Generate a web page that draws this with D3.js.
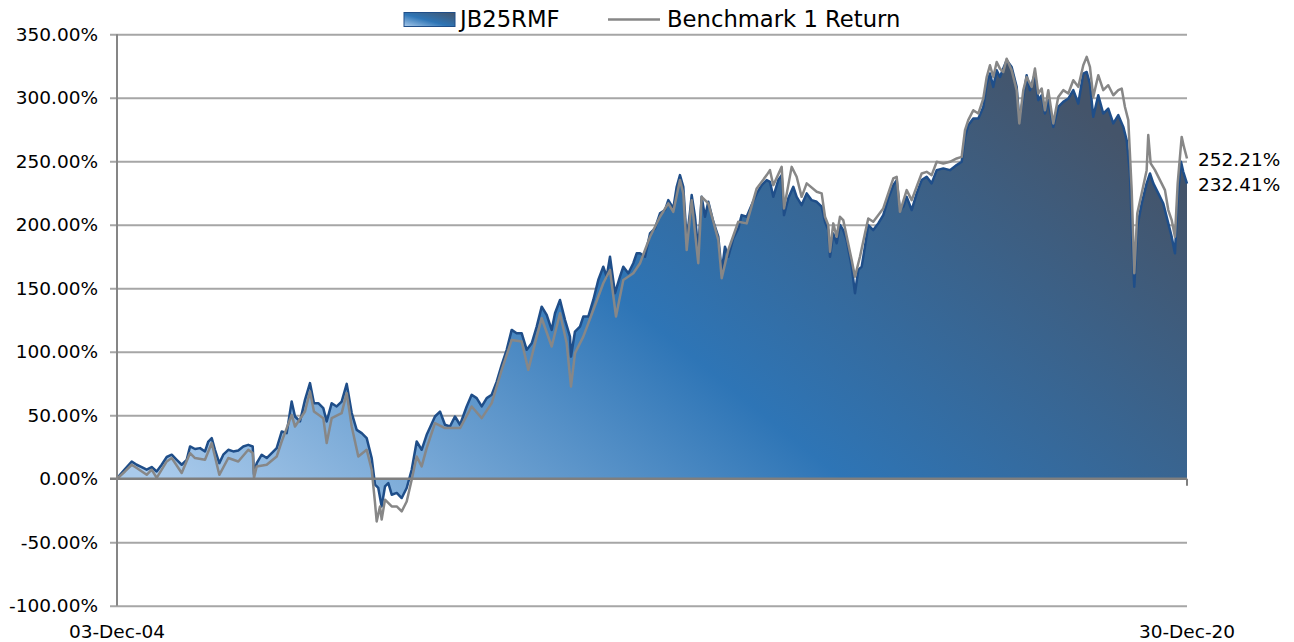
<!DOCTYPE html>
<html><head><meta charset="utf-8">
<script src="https://cdn.jsdelivr.net/npm/d3@7"></script>
<style>html,body{margin:0;padding:0;background:#fff;} svg{display:block;}</style>
</head><body><svg id="chart" width="1294" height="642"></svg>
<script>
const fundName = "JB25RMF";
const benchName = "Benchmark 1 Return";

// dates as decimal years
const fundDates = [2004.923,2004.968,2005.043,2005.144,2005.219,2005.294,2005.369,2005.444,2005.519,2005.594,2005.670,2005.745,2005.820,2005.895,2005.970,
2006.020,2006.095,2006.170,2006.245,2006.295,2006.346,2006.395,2006.460,2006.520,2006.595,2006.670,2006.745,2006.820,2006.895,2006.962,2006.981,
2007.022,2007.097,2007.172,2007.247,2007.322,2007.397,2007.472,2007.547,2007.597,2007.672,2007.747,2007.822,2007.882,2007.947,
2008.022,2008.073,2008.148,2008.223,2008.298,2008.374,2008.449,2008.524,2008.599,2008.674,2008.749,2008.799,2008.848,2008.899,2008.949,2008.999,
2009.050,2009.125,2009.200,2009.275,2009.350,2009.425,2009.500,2009.575,2009.700,2009.775,2009.850,2009.925,
2010.000,2010.076,2010.176,2010.251,2010.326,2010.402,2010.477,2010.552,2010.627,2010.702,2010.777,2010.852,2010.927,
2011.002,2011.078,2011.153,2011.228,2011.303,2011.378,2011.453,2011.503,2011.578,2011.653,2011.728,2011.743,2011.803,2011.878,2011.928,
2012.003,2012.078,2012.153,2012.228,2012.279,2012.329,2012.404,2012.479,2012.529,2012.604,2012.679,2012.730,2012.780,2012.855,2012.930,
2013.005,2013.080,2013.155,2013.205,2013.280,2013.331,2013.380,2013.430,2013.481,2013.531,2013.556,2013.606,2013.655,2013.706,2013.756,2013.806,2013.881,2013.956,
2014.007,2014.056,2014.106,2014.181,2014.256,2014.307,2014.382,2014.457,2014.533,2014.608,2014.683,2014.732,2014.782,2014.857,2014.908,2014.943,
2015.007,2015.083,2015.133,2015.208,2015.284,2015.359,2015.434,2015.509,2015.559,2015.608,2015.634,2015.683,2015.734,2015.784,2015.833,2015.884,2015.960,
2016.009,2016.059,2016.110,2016.159,2016.209,2016.284,2016.359,2016.434,2016.510,2016.585,2016.636,2016.685,2016.735,2016.786,2016.861,2016.936,
2017.011,2017.086,2017.161,2017.237,2017.336,2017.436,2017.537,2017.612,2017.662,2017.711,2017.786,2017.862,2017.937,2017.988,
2018.037,2018.087,2018.138,2018.187,2018.237,2018.288,2018.363,2018.438,2018.478,2018.538,2018.588,2018.638,2018.713,2018.763,2018.814,2018.863,2018.913,2018.988,
2019.063,2019.138,2019.214,2019.289,2019.364,2019.439,2019.490,2019.539,2019.589,2019.664,2019.739,2019.814,2019.890,2019.965,
2020.040,2020.091,2020.140,2020.175,2020.205,2020.250,2020.316,2020.391,2020.441,2020.491,2020.566,2020.641,2020.716,2020.767,2020.816,2020.857,2020.907,2020.941,2020.997];

const fundValues = [0,3.1,7.6,13.6,11.0,9.2,7.1,9.2,5.7,11.0,17.1,18.9,14.9,11.0,14.9,
25.4,23.4,24.1,21.5,29.3,32.0,22.8,12.3,18.9,22.8,21.5,22.3,25.4,26.7,25.4,3.5,
12.3,18.9,16.3,20.2,24.1,37.2,35.9,60.8,49.0,45.1,62.1,75.3,59.5,59.5,
55.6,45.1,59.5,56.9,60.8,74.7,51.7,38.5,35.9,32.0,16.3,-4.7,-7.3,-21.8,-6.1,-3.4,
-12.6,-11.2,-15.2,-7.3,7.1,29.3,22.8,34.6,49.0,52.9,42.5,41.1,
49.0,42.5,56.9,66.1,63.5,56.9,63.5,66.1,76.5,89.7,101.5,117.2,114.6,
114.6,101.5,106.7,119.8,135.5,129.0,117.2,130.3,140.8,125.1,111.9,96.2,115.9,119.8,127.7,
127.7,140.8,156.5,167.0,159.1,174.8,146.1,159.1,167.0,161.8,169.7,177.5,177.5,174.8,193.2,
197.2,209.0,211.6,219.4,212.9,229.9,239.1,229.9,188.0,210.2,223.4,206.3,180.1,222.0,206.3,218.1,202.4,190.6,
163.0,182.7,174.8,189.3,197.2,207.6,206.3,215.5,224.7,231.2,235.2,233.8,222.0,235.2,239.1,207.6,
220.8,229.9,222.0,215.5,224.7,219.4,218.1,214.2,202.4,195.8,174.8,193.2,185.4,199.8,195.8,188.0,167.0,
146.1,164.4,167.0,182.7,199.8,195.8,201.1,207.6,220.8,231.2,235.2,211.6,214.2,222.0,211.6,224.7,
235.2,237.8,232.6,243.0,244.4,243.0,247.0,249.6,269.2,278.4,283.7,283.7,292.8,311.2,
319.1,308.6,321.7,316.4,323.0,329.5,324.3,308.6,282.4,300.7,317.8,306.0,319.1,298.1,302.0,287.6,298.1,277.1,
292.8,296.8,299.4,306.0,295.5,319.1,320.3,311.2,285.0,302.0,287.6,291.5,279.8,286.3,
277.1,266.6,240.4,188.0,151.2,198.4,216.8,232.6,240.4,232.6,224.7,216.8,201.1,190.6,177.5,222.0,249.6,241.7,232.41];

const benchDates = [2004.923,2005.043,2005.144,2005.219,2005.369,2005.444,2005.519,2005.670,2005.745,2005.895,
2006.020,2006.095,2006.245,2006.346,2006.460,2006.595,2006.745,2006.895,2006.962,2006.981,
2007.022,2007.172,2007.322,2007.397,2007.547,2007.597,2007.747,2007.822,2007.882,
2008.022,2008.073,2008.148,2008.298,2008.374,2008.449,2008.548,2008.674,2008.749,2008.799,2008.824,2008.874,2008.899,2008.949,
2009.050,2009.125,2009.200,2009.275,2009.350,2009.425,2009.500,2009.575,2009.700,2009.850,
2010.076,2010.251,2010.402,2010.552,2010.702,2010.852,
2011.002,2011.102,2011.228,2011.303,2011.453,2011.578,2011.678,2011.743,2011.803,2011.928,
2012.078,2012.228,2012.329,2012.419,2012.529,2012.679,2012.780,2012.930,
2013.080,2013.205,2013.280,2013.380,2013.430,2013.481,2013.556,2013.655,2013.706,2013.806,2013.956,
2014.007,2014.106,2014.256,2014.382,2014.533,2014.683,2014.732,2014.782,2014.908,2014.943,
2015.058,2015.133,2015.208,2015.284,2015.434,2015.509,2015.559,2015.608,2015.634,2015.683,2015.734,2015.784,2015.833,2015.960,
2016.009,2016.084,2016.159,2016.209,2016.284,2016.434,2016.585,2016.636,2016.685,2016.786,2016.861,2016.936,
2017.011,2017.086,2017.161,2017.237,2017.336,2017.436,2017.537,2017.612,2017.662,2017.711,2017.786,2017.862,2017.937,2017.988,
2018.037,2018.087,2018.138,2018.187,2018.237,2018.288,2018.363,2018.438,2018.478,2018.538,2018.588,2018.664,2018.713,2018.763,2018.814,2018.863,2018.913,2018.988,
2019.063,2019.138,2019.214,2019.289,2019.364,2019.439,2019.490,2019.539,2019.589,2019.664,2019.739,2019.814,2019.890,2019.965,
2020.016,2020.065,2020.115,2020.166,2020.205,2020.250,2020.316,2020.391,2020.415,2020.451,2020.516,2020.591,2020.666,2020.716,2020.767,2020.816,2020.857,2020.917,2020.951,2020.997];

const benchValues = [0,5.7,11.0,8.4,3.1,7.1,0.6,13.6,16.3,4.5,
20.2,16.3,14.9,28.1,3.1,16.3,13.6,22.8,20.2,0.6,
9.7,11.0,17.5,29.3,50.3,41.1,52.9,68.7,52.9,
47.7,28.1,47.7,51.7,67.4,41.1,17.5,22.8,7.1,-19.1,-33.6,-21.8,-32.2,-16.5,
-21.8,-21.8,-25.7,-17.9,-0.8,17.5,9.7,24.1,43.8,39.9,
39.9,56.9,47.7,59.5,85.7,109.3,
108.0,85.7,111.9,126.4,104.1,130.3,106.7,72.6,98.9,111.9,
132.9,153.9,164.4,127.7,156.5,161.8,169.7,190.6,
206.3,216.8,210.2,235.2,224.7,180.1,219.4,169.7,222.0,216.8,188.0,
157.9,180.1,202.4,201.1,228.6,239.1,243.0,231.2,245.6,212.9,
245.6,237.8,222.0,232.6,226.0,224.7,206.3,199.8,178.8,201.1,190.6,206.3,203.7,172.2,
159.1,174.8,193.2,205.0,202.4,212.9,236.5,237.8,210.2,227.3,219.4,229.9,
240.4,241.7,239.1,249.6,248.3,249.6,252.2,253.5,274.5,282.4,290.2,287.6,299.4,316.4,
325.6,316.4,328.2,323.0,320.3,330.8,321.7,306.0,279.8,306.0,316.4,308.6,323.0,303.4,307.3,290.2,306.0,279.8,
300.7,306.0,303.4,313.8,308.6,325.6,332.2,324.3,300.7,317.8,306.0,309.9,302.0,306.0,
307.3,292.8,282.4,227.3,161.8,208.9,224.7,243.0,270.6,248.3,243.0,235.2,227.3,211.6,203.7,190.6,232.6,269.2,261.3,252.21];

const yTicks = [-100,-50,0,50,100,150,200,250,300,350];
const xTickValues = [2004.923, 2020.997];
const xTickLabels = ["03-Dec-04", "30-Dec-20"];
const endLabels = ["252.21%", "232.41%"];

const fund = fundDates.map((d,i)=>({d, v: fundValues[i]}));
const bench = benchDates.map((d,i)=>({d, v: benchValues[i]}));

const svg = d3.select("#chart");
const x = d3.scaleLinear().domain([xTickValues[0], xTickValues[1]]).range([117, 1187]);
const y = d3.scaleLinear().domain([-100, 350]).range([605.7, 34.3]);

const defs = svg.append("defs");
const stops = [[0.05,"#a9caeb"],[0.47,"#2e75b6"],[0.9,"#44546a"]];
const g1 = defs.append("linearGradient").attr("id","areaGrad")
  .attr("gradientUnits","userSpaceOnUse")
  .attr("x1",117).attr("y1",507).attr("x2",764).attr("y2",-285);
stops.forEach(s=>g1.append("stop").attr("offset",s[0]).attr("stop-color",s[1]));
const g2 = defs.append("linearGradient").attr("id","swatchGrad")
  .attr("x1",0).attr("y1",1).attr("x2",1).attr("y2",0);
[[0,"#a9caeb"],[0.45,"#2e75b6"],[1,"#44546a"]].forEach(s=>g2.append("stop").attr("offset",s[0]).attr("stop-color",s[1]));

// gridlines + y labels
const yAxis = d3.axisLeft(y).tickValues(yTicks).tickSize(-(1187-110)).tickPadding(12)
  .tickFormat(d => d.toFixed(2) + "%");
const ya = svg.append("g").attr("transform","translate(110,0)").call(yAxis);
ya.select(".domain").remove();
ya.selectAll(".tick line").attr("stroke", d => d===0 ? "none" : "#a6a6a6").attr("stroke-width",2);
ya.selectAll(".tick text").attr("font-family","'DejaVu Sans', sans-serif").attr("font-size","18.5px").attr("fill","#000");

// area
const area = d3.area().x(p=>x(p.d)).y0(y(0)).y1(p=>y(p.v));
svg.append("path").datum(fund).attr("d",area).attr("fill","url(#areaGrad)");
const line = d3.line().x(p=>x(p.d)).y(p=>y(p.v));
svg.append("path").datum(fund).attr("d",line).attr("fill","none").attr("stroke","#1f4e89").attr("stroke-width",2.5).attr("stroke-linejoin","round");
svg.append("path").datum(bench).attr("d",line).attr("fill","none").attr("stroke","#878787").attr("stroke-width",2.5).attr("stroke-linejoin","round");

// zero axis line
svg.append("line").attr("x1",110).attr("x2",1187).attr("y1",y(0)).attr("y2",y(0)).attr("stroke","#7f7f7f").attr("stroke-width",2.5);
svg.append("line").attr("x1",1187).attr("x2",1187).attr("y1",y(0)).attr("y2",y(0)+7).attr("stroke","#7f7f7f").attr("stroke-width",2);
// y axis line
svg.append("line").attr("x1",117).attr("x2",117).attr("y1",y(350)).attr("y2",y(-100)).attr("stroke","#868686").attr("stroke-width",2);

// x labels
svg.selectAll(".xl").data(xTickValues).enter().append("text")
  .attr("x",d=>x(d)).attr("y",638).attr("text-anchor","middle")
  .attr("font-family","'DejaVu Sans', sans-serif").attr("font-size","18.5px").attr("fill","#000")
  .text((d,i)=>xTickLabels[i]);

// end labels
svg.selectAll(".el").data(endLabels).enter().append("text")
  .attr("x",1198).attr("y",(d,i)=> i===0 ? 166 : 191)
  .attr("font-family","'DejaVu Sans', sans-serif").attr("font-size","18.5px").attr("fill","#000")
  .text(d=>d);

// legend
const lg = svg.append("g");
lg.append("rect").attr("x",404).attr("y",12.5).attr("width",51).attr("height",14)
  .attr("fill","url(#swatchGrad)").attr("stroke","#1f4e89").attr("stroke-width",1);
lg.append("text").attr("x",460).attr("y",26.7).attr("font-family","'DejaVu Sans', sans-serif")
  .attr("font-size","22.7px").attr("fill","#000").text(fundName);
lg.append("line").attr("x1",608).attr("x2",660).attr("y1",19.5).attr("y2",19.5).attr("stroke","#878787").attr("stroke-width",2.5);
lg.append("text").attr("x",667).attr("y",26.7).attr("font-family","'DejaVu Sans', sans-serif")
  .attr("font-size","22.7px").attr("fill","#000").text(benchName);
</script>
</body></html>
